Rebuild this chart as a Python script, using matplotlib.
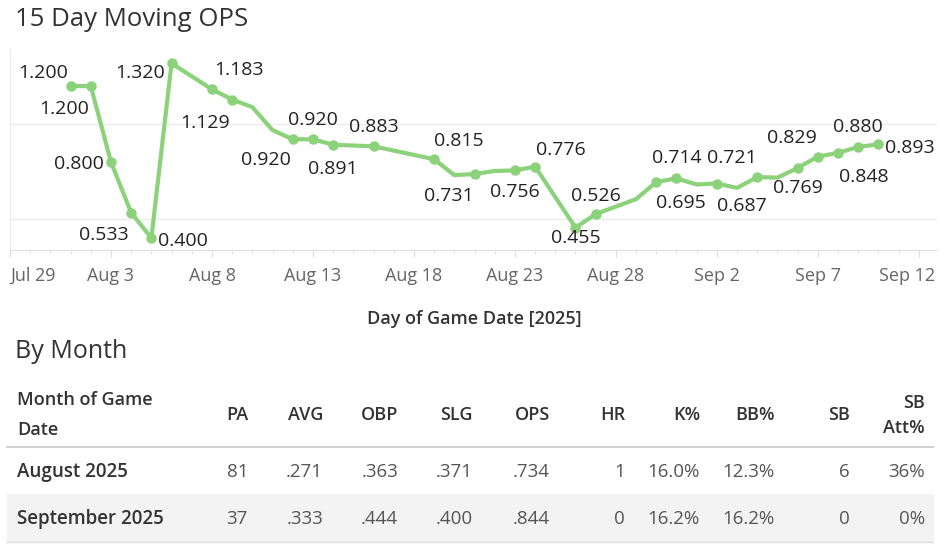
import matplotlib.pyplot as plt
import matplotlib.dates as mdates
from matplotlib.patches import Rectangle
from matplotlib.lines import Line2D
from matplotlib.transforms import ScaledTranslation
import pandas as pd

plt.rcParams['font.family'] = ['Open Sans', 'DejaVu Sans']

W, H = 950, 560

# 15-day moving OPS, one value per game date
game_dates = ['2025-08-01', '2025-08-02', '2025-08-03', '2025-08-04', '2025-08-05',
              '2025-08-06', '2025-08-08', '2025-08-09', '2025-08-10', '2025-08-11',
              '2025-08-12', '2025-08-13', '2025-08-14', '2025-08-16', '2025-08-19',
              '2025-08-20', '2025-08-21', '2025-08-22', '2025-08-23', '2025-08-24',
              '2025-08-26', '2025-08-27', '2025-08-29', '2025-08-30', '2025-08-31',
              '2025-09-01', '2025-09-02', '2025-09-03', '2025-09-04', '2025-09-05',
              '2025-09-06', '2025-09-07', '2025-09-08', '2025-09-09', '2025-09-10']
ops = [1.200, 1.200, 0.800, 0.533, 0.400,
       1.320, 1.183, 1.129, 1.089, 0.968,
       0.920, 0.920, 0.891, 0.883, 0.815,
       0.731, 0.737, 0.753, 0.756, 0.776,
       0.455, 0.526, 0.605, 0.695, 0.714,
       0.682, 0.687, 0.664, 0.721, 0.718,
       0.769, 0.829, 0.848, 0.880, 0.893]

# dates drawn without a dot in the original
no_marker_dates = ['2025-08-10', '2025-08-11', '2025-08-20', '2025-08-22',
                   '2025-08-29', '2025-09-01', '2025-09-03', '2025-09-05']

# label placement (offset from the point, pixels)
label_offsets = {
    '2025-08-01': (-27, 13), '2025-08-02': (-27, -23), '2025-08-03': (-32, -2),
    '2025-08-04': (-27, -22), '2025-08-05': (32, -3), '2025-08-06': (-32, -10),
    '2025-08-08': (27, 19), '2025-08-09': (-27, -23), '2025-08-12': (-27, -21),
    '2025-08-13': (0, 19), '2025-08-14': (0, -24), '2025-08-16': (0, 19),
    '2025-08-19': (25, 18), '2025-08-20': (-6, -21), '2025-08-23': (0, -22),
    '2025-08-24': (26, 17), '2025-08-26': (0, -10), '2025-08-27': (0, 18),
    '2025-08-30': (25, -21), '2025-08-31': (0, 20), '2025-09-02': (25, -22),
    '2025-09-04': (-25, 19), '2025-09-06': (0, -20), '2025-09-07': (-26, 19),
    '2025-09-08': (26, -24), '2025-09-09': (0, 20), '2025-09-10': (31, -4),
}

# monthly table
months = ['August 2025', 'September 2025']
pa = [81, 37]
avg = [0.271, 0.333]
obp = [0.363, 0.444]
slg = [0.371, 0.400]
ops_month = [0.734, 0.844]
hr = [1, 0]
k_pct = [16.0, 16.2]
bb_pct = [12.3, 16.2]
sb = [6, 0]
sb_att = [36, 0]

green = '#8bd27a'
dark = '#333333'


def fx(x):
    return x / W


def fy(y):
    return 1 - y / H


fig = plt.figure(figsize=(W / 100, H / 100), dpi=100)

# ---- line chart
ax = fig.add_axes([fx(10), fy(250), (937 - 10) / W, 200 / H])
d = pd.to_datetime(game_dates)
ax.plot(d, ops, color=green, lw=3, solid_joinstyle='round', solid_capstyle='round', zorder=3)
mk = ~pd.Series(game_dates).isin(no_marker_dates).values
ax.plot(d[mk], [v for v, m in zip(ops, mk) if m], 'o', color=green, ms=6.5, zorder=4)

for ds, v in zip(game_dates, ops):
    if ds in label_offsets:
        ax.annotate(f'{v:.3f}', (pd.Timestamp(ds), v), xytext=label_offsets[ds],
                    textcoords='offset pixels', ha='center', va='center',
                    fontsize=14, color='#222222', zorder=5)

x0 = mdates.date2num(pd.Timestamp('2025-07-29'))
ax.set_xlim(x0, x0 + 45.9)
ax.set_ylim(0.337, 1.39)

major = pd.date_range('2025-07-29', '2025-09-12', freq='5D')
ax.set_xticks(major)
ax.set_xticklabels([f'{t:%b} {t.day}' for t in major])
ax.xaxis.set_minor_locator(mdates.DayLocator())
ax.tick_params(axis='x', which='both', direction='out', color='#dddddd',
               labelsize=13, labelcolor='#666666', pad=7)
ax.tick_params(axis='x', which='major', length=5)
ax.tick_params(axis='x', which='minor', length=3)
tl = ax.get_xticklabels()
tl[0].set_ha('left')
tl[-1].set_ha('right')
tl[-1].set_transform(tl[-1].get_transform() + ScaledTranslation(0.16, 0, fig.dpi_scale_trans))

ax.set_yticks([0.5, 1.0])
ax.set_yticklabels([])
ax.tick_params(axis='y', length=0)
ax.grid(axis='y', color='#ebebeb', lw=1)
ax.set_axisbelow(True)
for s in ['top', 'right']:
    ax.spines[s].set_visible(False)
ax.spines['bottom'].set_color('#e0e0e0')
ax.spines['left'].set_color('#ebebeb')

fig.text(fx(474), fy(319), 'Day of Game Date [2025]', ha='center', va='center',
         fontsize=13, color=dark, fontweight='semibold')
fig.text(fx(15), fy(20), '15 Day Moving OPS', ha='left', va='center', fontsize=18.5,
         color=dark)

# ---- table
fig.text(fx(15), fy(352), 'By Month', ha='left', va='center', fontsize=18, color=dark)

fig.patches.append(Rectangle((fx(7), fy(542)), fx(933) - fx(7), fy(494) - fy(542),
                             transform=fig.transFigure, color='#f3f3f3', zorder=0))
fig.add_artist(Line2D([fx(7), fx(933)], [fy(447), fy(447)], color='#d2d2d2', lw=1.5))
fig.add_artist(Line2D([fx(7), fx(933)], [fy(542), fy(542)], color='#dedede', lw=1))

hdr = dict(fontsize=13, color=dark, fontweight='semibold', va='center')
fig.text(fx(17), fy(400), 'Month of Game', ha='left', **hdr)
fig.text(fx(17), fy(430), 'Date', ha='left', **hdr)

col_names = ['PA', 'AVG', 'OBP', 'SLG', 'OPS', 'HR', 'K%', 'BB%', 'SB']
col_right = [248, 323, 398, 473, 550, 625, 700, 775, 850]
for name, xr in zip(col_names, col_right):
    fig.text(fx(xr), fy(415), name, ha='right', **hdr)
fig.text(fx(925), fy(403), 'SB', ha='right', **hdr)
fig.text(fx(925), fy(428), 'Att%', ha='right', **hdr)


def rate(v):
    return f'{v:.3f}'.lstrip('0')


row_y = [472, 519]
for i, yy in enumerate(row_y):
    fig.text(fx(17), fy(yy), months[i], ha='left', va='center', fontsize=13.5,
             color=dark, fontweight='semibold')
    cells = [str(pa[i]), rate(avg[i]), rate(obp[i]), rate(slg[i]), rate(ops_month[i]),
             str(hr[i]), f'{k_pct[i]:.1f}%', f'{bb_pct[i]:.1f}%', str(sb[i]), f'{sb_att[i]}%']
    for txt, xr in zip(cells, col_right + [925]):
        fig.text(fx(xr), fy(yy), txt, ha='right', va='center', fontsize=13.5, color='#555555')

fig.savefig('out.png', dpi=100)
